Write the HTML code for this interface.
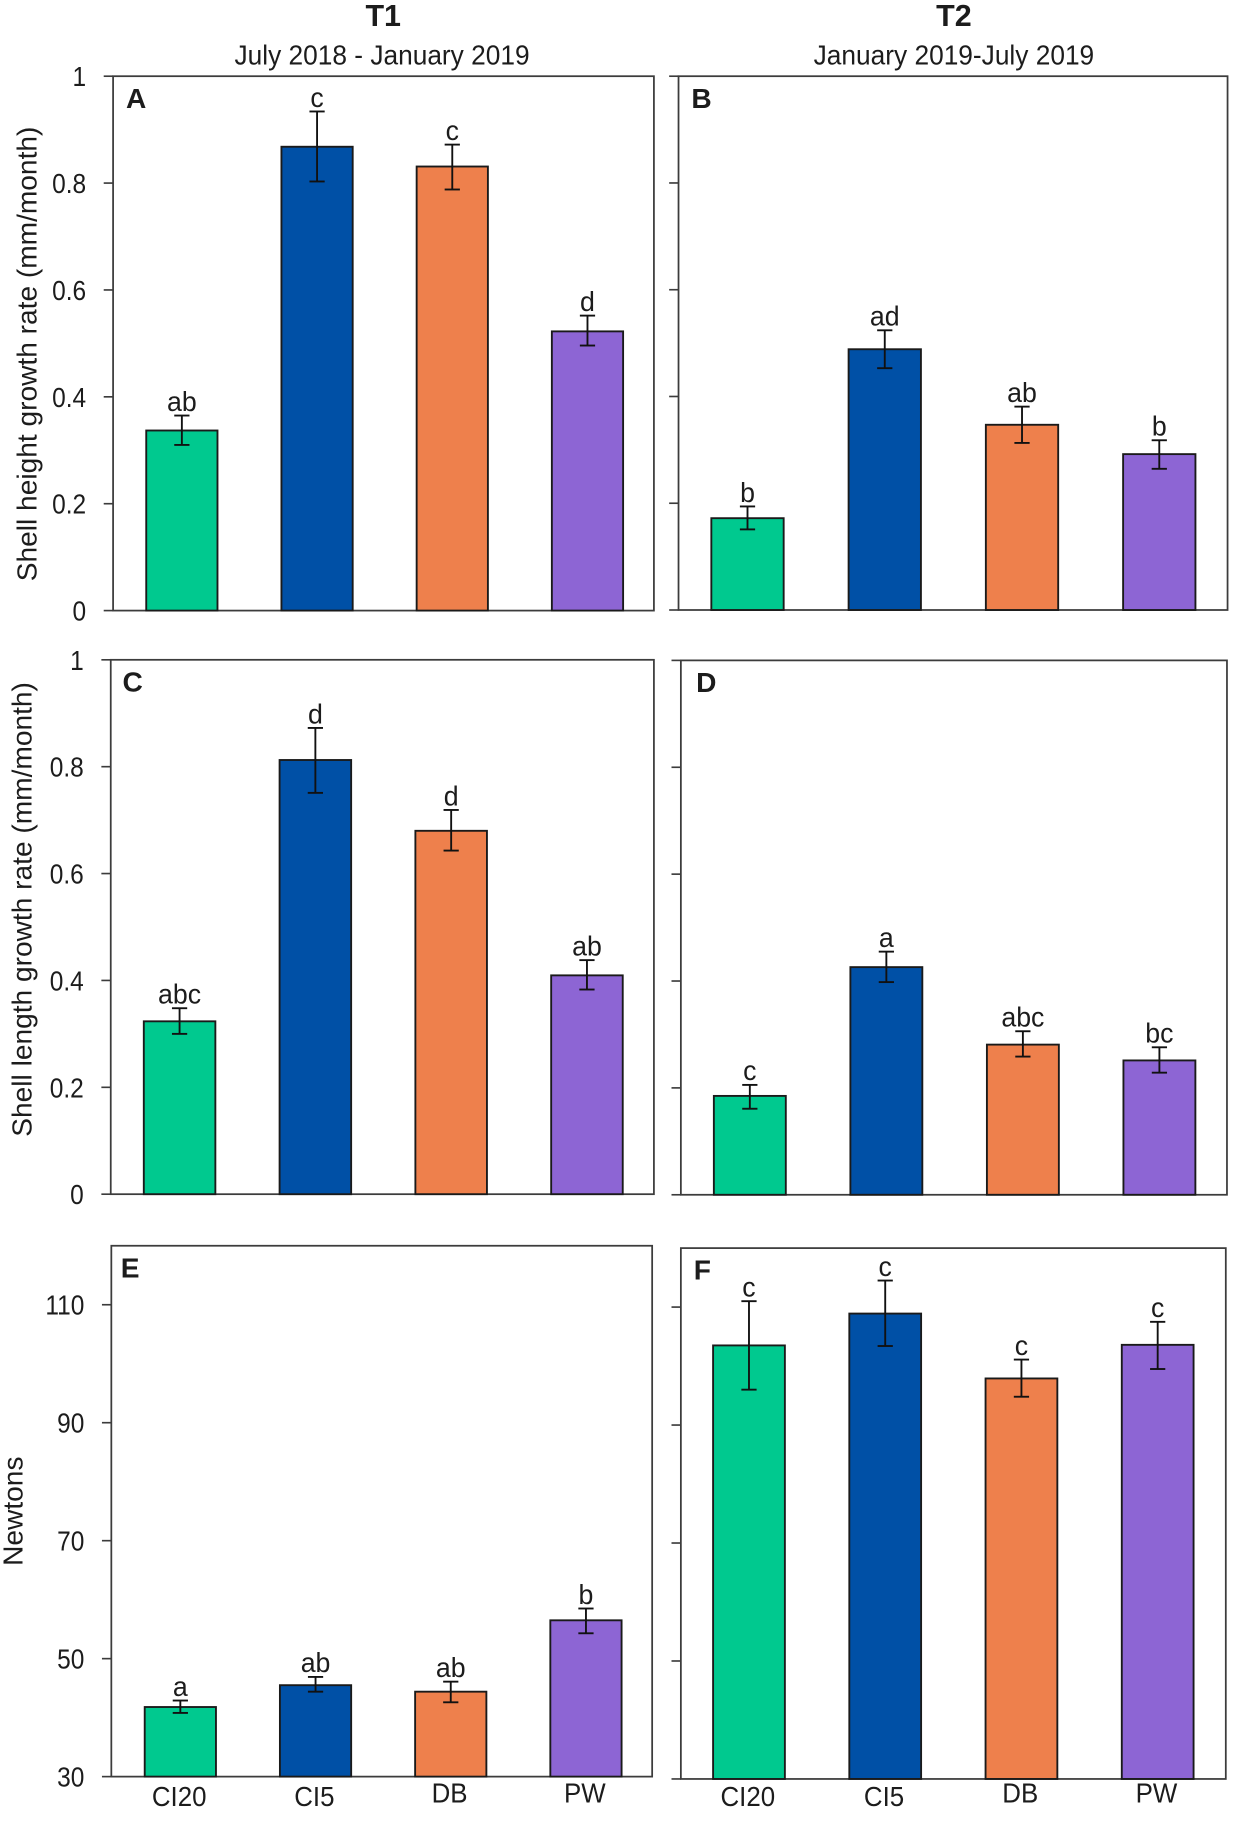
<!DOCTYPE html>
<html lang="en">
<head>
<meta charset="utf-8">
<title>Shell growth rate and strength by site</title>
<style>
html,body{margin:0;padding:0;background:#fff;}
svg{display:block;}
text{font-family:"Liberation Sans",sans-serif;fill:#1c1c1c;}
</style>
</head>
<body>
<svg id="figure" xmlns="http://www.w3.org/2000/svg" width="1234" height="1837" viewBox="0 0 1053 1567.5"></svg>
<script>
const categories = ["CI20", "CI5", "DB", "PW"];
const colors = ["#00C98F", "#0050A6", "#EE804C", "#8D65D4"];
const growthTicks = [0, 0.2, 0.4, 0.6, 0.8, 1];
const newtonTicks = [30, 50, 70, 90, 110];

const valuesA = [0.337, 0.868, 0.831, 0.5225];
const highA = [0.365, 0.934, 0.872, 0.552];
const lowA = [0.31, 0.803, 0.788, 0.496];
const lettersA = ["ab", "c", "c", "d"];

const valuesB = [0.172, 0.4885, 0.347, 0.292];
const highB = [0.194, 0.524, 0.381, 0.318];
const lowB = [0.151, 0.453, 0.313, 0.2645];
const lettersB = ["b", "ad", "ab", "b"];

const valuesC = [0.3235, 0.8125, 0.68, 0.4095];
const highC = [0.348, 0.8725, 0.719, 0.438];
const lowC = [0.30, 0.751, 0.643, 0.383];
const lettersC = ["abc", "d", "d", "ab"];

const valuesD = [0.185, 0.426, 0.281, 0.2514];
const highD = [0.2056, 0.455, 0.306, 0.276];
const lowD = [0.161, 0.398, 0.2586, 0.2285];
const lettersD = ["c", "a", "abc", "bc"];

const valuesE = [41.8, 45.5, 44.4, 56.5];
const highE = [42.9, 46.9, 46.1, 58.5];
const lowE = [40.8, 44.4, 42.6, 54.3];
const lettersE = ["a", "ab", "ab", "b"];

const valuesF = [103.5, 108.9, 97.9, 103.6];
const highF = [111, 114.5, 101.1, 107.5];
const lowF = [96, 103.4, 94.8, 99.5];
const lettersF = ["c", "c", "c", "c"];

const svg = document.getElementById('figure');
const NS = 'http://www.w3.org/2000/svg';

function make(tag, parent) {
  const el = document.createElementNS(NS, tag);
  parent.appendChild(el);
  return el;
}

function addLine(parent, x1, y1, x2, y2, color, width) {
  const el = make('line', parent);
  el.setAttribute('x1', x1);
  el.setAttribute('y1', y1);
  el.setAttribute('x2', x2);
  el.setAttribute('y2', y2);
  el.setAttribute('stroke', color);
  el.setAttribute('stroke-width', width);
  return el;
}

function addText(parent, x, y, str, size, weight, anchor, sx, rotate) {
  const el = make('text', parent);
  const rot = rotate ? ' rotate(' + rotate + ')' : '';
  el.setAttribute('transform', 'translate(' + x + ',' + y + ')' + rot + ' scale(' + sx + ',1)');
  el.setAttribute('font-size', size);
  el.setAttribute('font-weight', weight);
  el.setAttribute('text-anchor', anchor);
  el.textContent = str;
  return el;
}

function drawPanel(p) {
  const g = make('g', svg);
  
  

  const yScale = v => p.bottom - (v - p.min) / (p.max - p.min) * (p.bottom - p.top);
  const band = (p.right - p.left) / categories.length;
  const xScale = i => p.left + p.shift + (i + 0.5) * band;
  const barWidth = band * 0.527;

  const frame = make('rect', g);
  frame.setAttribute('x', p.left);
  frame.setAttribute('y', p.top);
  frame.setAttribute('width', p.right - p.left);
  frame.setAttribute('height', p.bottom - p.top);
  frame.setAttribute('fill', 'none');
  frame.setAttribute('stroke', '#3c3c3c');
  frame.setAttribute('stroke-width', 1.5);
  
  

  p.ticks.forEach(t => {
    const tick = addLine(g, p.left - 8, yScale(t), p.left, yScale(t), '#3c3c3c', 1.4);
    
    
    if (p.showY) {
      const label = addText(g, p.left - 23, yScale(t) + 8.5, String(t), 24, 'normal', 'end', 0.87, 0);
      
      
    }
  });

  p.values.forEach((v, i) => {
    const cx = xScale(i);
    const bar = make('rect', g);
    bar.setAttribute('x', cx - barWidth / 2);
    bar.setAttribute('y', yScale(v));
    bar.setAttribute('width', barWidth);
    bar.setAttribute('height', p.bottom - yScale(v));
    bar.setAttribute('fill', colors[i]);
    bar.setAttribute('stroke', '#1a1a1a');
    bar.setAttribute('stroke-width', 1.6);
    
    

    const stem = addLine(g, cx, yScale(p.high[i]), cx, yScale(p.low[i]), '#111', 1.6);
    
    
    const capTop = addLine(g, cx - 6.5, yScale(p.high[i]), cx + 6.5, yScale(p.high[i]), '#111', 1.6);
    
    
    const capLow = addLine(g, cx - 6.5, yScale(p.low[i]), cx + 6.5, yScale(p.low[i]), '#111', 1.6);
    
    

    const sig = addText(g, cx, yScale(p.high[i]) - 4, p.letters[i], 24, 'normal', 'middle', 0.95, 0);
    
    

    if (p.showX) {
      const cat = addText(g, cx + p.catShift, p.bottom + (i < 2 ? p.catDrop : p.catDrop - 3), categories[i], 24, 'normal', 'middle', 0.92, 0);
      
      
    }
  });

  const tag = addText(g, p.left + p.tagX, p.top + 27, p.letter, 24, 'bold', 'start', 1, 0);
  
  

  if (p.yTitle) {
    const title = addText(g, p.titleX, (p.top + p.bottom) / 2 + p.titleShift, p.yTitle, 24, 'normal', 'middle', 1, -90);
    
    
  }
}

drawPanel({letter:'A', left:96.5, right:558, top:65, bottom:521, min:0, max:1, ticks:growthTicks, values:valuesA, high:highA, low:lowA, letters:lettersA, showY:true, showX:false, shift:1, tagX:11, yTitle:'Shell height growth rate (mm/month)', titleX:31, titleShift:9});
drawPanel({letter:'B', left:579, right:1047.5, top:65, bottom:520.5, min:0, max:1, ticks:growthTicks, values:valuesB, high:highB, low:lowB, letters:lettersB, showY:false, showX:false, shift:0.3, tagX:11});
drawPanel({letter:'C', left:94.5, right:558, top:563, bottom:1019, min:0, max:1, ticks:growthTicks, values:valuesC, high:highC, low:lowC, letters:lettersC, showY:true, showX:false, shift:0.8, tagX:10, yTitle:'Shell length growth rate (mm/month)', titleX:27, titleShift:-15});
drawPanel({letter:'D', left:581, right:1047, top:563.5, bottom:1019.5, min:0, max:1, ticks:growthTicks, values:valuesD, high:highD, low:lowD, letters:lettersD, showY:false, showX:false, shift:0.6, tagX:13});
drawPanel({letter:'E', left:95, right:556.5, top:1063, bottom:1516, min:30, max:120, ticks:newtonTicks, values:valuesE, high:highE, low:lowE, letters:lettersE, showY:true, showX:true, shift:1.2, catShift:-1, catDrop:25, tagX:8, yTitle:'Newtons', titleX:19, titleShift:0});
drawPanel({letter:'F', left:581, right:1046, top:1065, bottom:1518, min:30, max:120, ticks:newtonTicks, values:valuesF, high:highF, low:lowF, letters:lettersF, showY:false, showX:true, shift:0, catShift:-1, catDrop:23, tagX:11});

const headT1 = addText(svg, 327, 22, 'T1', 26, 'bold', 'middle', 1, 0);


const headT2 = addText(svg, 814, 22, 'T2', 26, 'bold', 'middle', 1, 0);


const subT1 = addText(svg, 326, 55, 'July 2018 - January 2019', 23.5, 'normal', 'middle', 0.955, 0);


const subT2 = addText(svg, 814, 55, 'January 2019-July 2019', 23.5, 'normal', 'middle', 0.955, 0);


</script>
</body>
</html>
